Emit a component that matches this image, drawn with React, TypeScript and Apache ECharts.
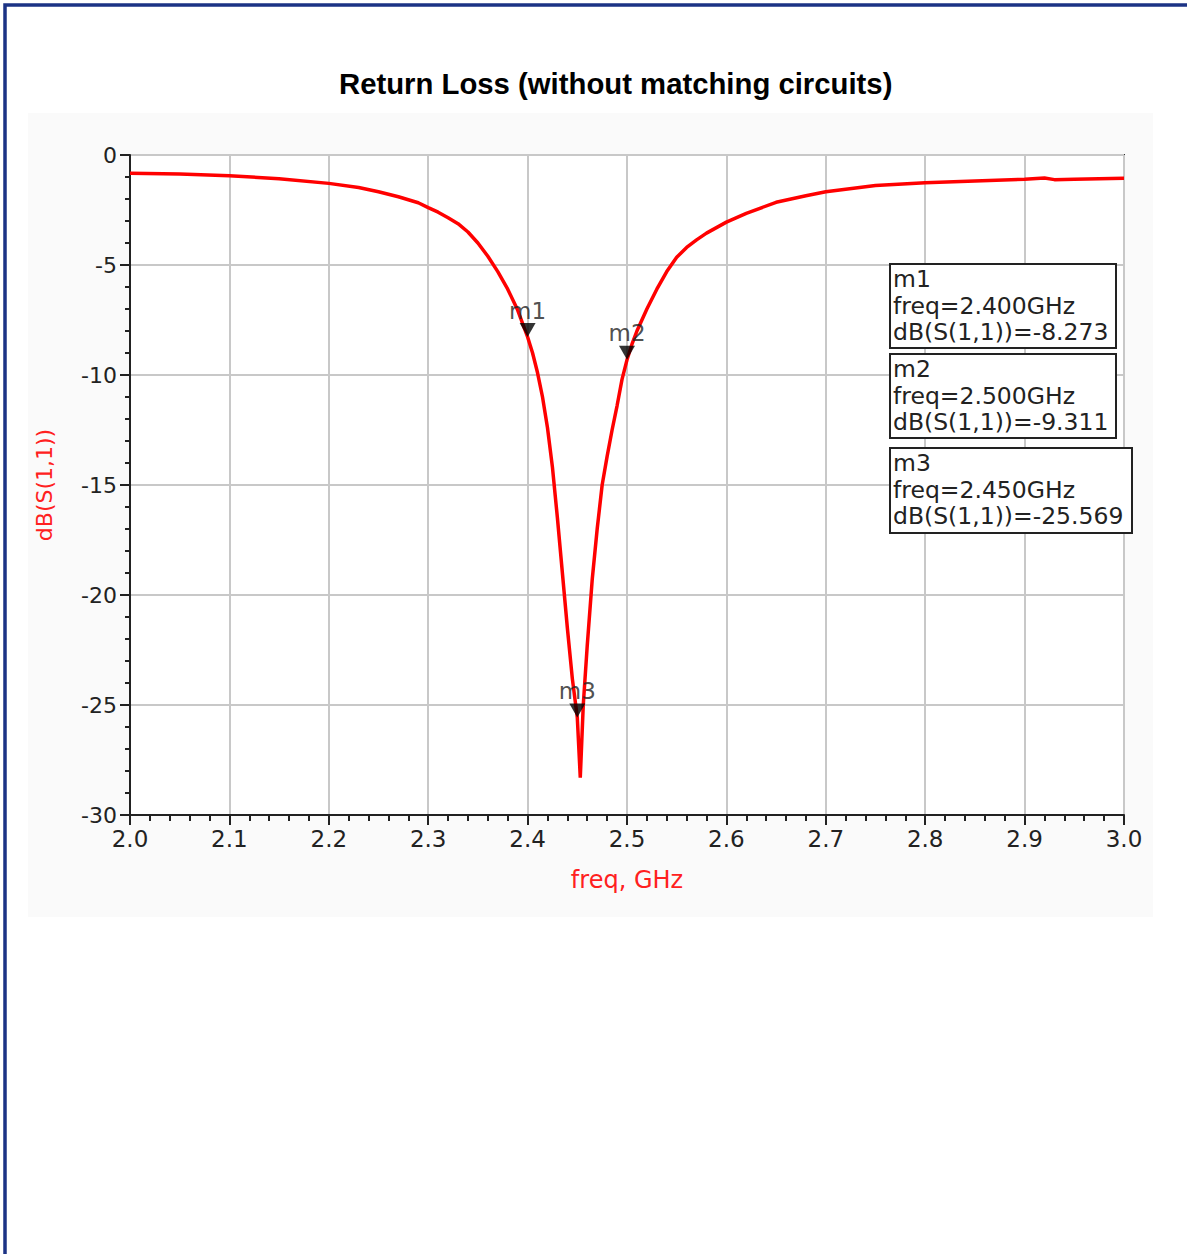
import React, { useEffect, useRef } from "react";
import * as echarts from "echarts";

const chartTitle = "Return Loss (without matching circuits)";
const xAxisName = "freq, GHz";
const yAxisName = "dB(S(1,1))";

const freqGHz = [
  2.0, 2.05, 2.1, 2.15, 2.2, 2.23, 2.25, 2.27, 2.29, 2.3, 2.31, 2.32, 2.33, 2.34, 2.35, 2.36,
  2.37, 2.38, 2.39, 2.4, 2.405, 2.41, 2.415, 2.42, 2.425, 2.43, 2.435, 2.44, 2.445, 2.45,
  2.453, 2.456, 2.46, 2.465, 2.47, 2.475, 2.48, 2.485, 2.49, 2.495, 2.5, 2.505, 2.51, 2.52,
  2.53, 2.54, 2.55, 2.56, 2.57, 2.58, 2.6, 2.62, 2.65, 2.68, 2.7, 2.75, 2.8, 2.85, 2.9, 2.92,
  2.93, 2.95, 3.0,
];
const s11dB = [
  -0.83, -0.86, -0.94, -1.08, -1.29, -1.48, -1.67, -1.9, -2.17, -2.39, -2.6, -2.85, -3.12, -3.5, -4.0, -4.6,
  -5.3, -6.1, -7.05, -8.273, -9.0, -9.9, -11.0, -12.4, -14.2, -16.5, -19.0, -21.5, -23.8, -25.569,
  -28.3, -25.0, -22.3, -19.3, -17.0, -15.0, -13.7, -12.5, -11.4, -10.2, -9.311, -8.6, -8.0, -7.0,
  -6.1, -5.3, -4.65, -4.2, -3.86, -3.55, -3.05, -2.65, -2.15, -1.85, -1.67, -1.39, -1.26, -1.18, -1.1, -1.05,
  -1.12, -1.1, -1.06,
];

const markerNames = ["m1", "m2", "m3"];
const markerFreq = [2.4, 2.5, 2.45];
const markerDB = [-8.273, -9.311, -25.569];

const xTickMin = 2.0;
const xTickMax = 3.0;
const xTickStep = 0.1;
const yTickMin = -30;
const yTickMax = 0;
const yTickStep = 5;

const FONT = '"DejaVu Sans", sans-serif';

export default function App() {
  const ref = useRef<HTMLDivElement>(null);

  useEffect(() => {
    if (!ref.current) return;
    const chart = echarts.init(ref.current, undefined, { renderer: "svg" });

    const lineData = freqGHz.map((f, i) => [f, s11dB[i]]);
    const markerData = markerNames.map((n, i) => ({ name: n, value: [markerFreq[i], markerDB[i]] }));

    const boxes = [
      { x: 890, y: 264, w: 226, h: 84 },
      { x: 890, y: 354, w: 226, h: 84 },
      { x: 890, y: 448, w: 242, h: 85 },
    ];

    const boxGraphics = markerNames.map((n, i) => ({
      type: "group",
      x: boxes[i].x,
      y: boxes[i].y,
      z: 100,
      children: [
        {
          type: "rect",
          z: 100,
          shape: { x: 0, y: 0, width: boxes[i].w, height: boxes[i].h },
          style: { fill: "#ffffff", stroke: "#222222", lineWidth: 2 },
        },
        {
          type: "text",
          z: 101,
          x: 3,
          y: 2,
          style: {
            text: `${n}\nfreq=${markerFreq[i].toFixed(3)}GHz\ndB(S(1,1))=${markerDB[i].toFixed(3)}`,
            font: `23.5px ${FONT}`,
            fill: "#222222",
            lineHeight: 26.5,
            textVerticalAlign: "top",
          },
        },
      ],
    }));

    chart.setOption({
      animation: false,
      backgroundColor: "#ffffff",
      title: {
        text: chartTitle,
        left: 334,
        top: 64,
        textStyle: {
          fontFamily: '"Liberation Sans", Arial, sans-serif',
          fontWeight: "bold",
          fontSize: 29.3,
          color: "#000000",
        },
      },
      graphic: [
        {
          type: "rect",
          z: -10,
          silent: true,
          shape: { x: 5, y: 5, width: 1250, height: 1300 },
          style: { fill: "none", stroke: "#1c3385", lineWidth: 3.5 },
        },
        {
          type: "rect",
          z: -9,
          silent: true,
          shape: { x: 28, y: 113, width: 1125, height: 804 },
          style: { fill: "#fafafa" },
        },
        ...boxGraphics,
      ],
      grid: {
        left: 130,
        top: 155,
        width: 994,
        height: 660,
        show: true,
        backgroundColor: "#ffffff",
        borderColor: "#333333",
        borderWidth: 2,
      },
      xAxis: {
        type: "value",
        min: xTickMin,
        max: xTickMax,
        interval: xTickStep,
        name: xAxisName,
        nameLocation: "middle",
        nameGap: 53,
        nameTextStyle: { color: "#ff2020", fontSize: 24, fontFamily: FONT },
        axisLine: { show: true, onZero: false, lineStyle: { color: "#222222", width: 2 } },
        axisTick: { show: true, length: 10, lineStyle: { color: "#222222", width: 2 } },
        minorTick: { show: true, splitNumber: 5, length: 6, lineStyle: { color: "#222222", width: 2 } },
        axisLabel: {
          color: "#222222",
          fontSize: 23,
          fontFamily: FONT,
          margin: 12,
          formatter: (v: number) => v.toFixed(1),
        },
        splitLine: { show: true, lineStyle: { color: "#c8c8c8", width: 2 } },
      },
      yAxis: {
        type: "value",
        min: yTickMin,
        max: yTickMax,
        interval: yTickStep,
        name: yAxisName,
        nameLocation: "middle",
        nameGap: 75,
        nameTextStyle: { color: "#ff2020", fontSize: 22, fontFamily: FONT },
        axisLine: { show: true, onZero: false, lineStyle: { color: "#222222", width: 2 } },
        axisTick: { show: true, length: 10, lineStyle: { color: "#222222", width: 2 } },
        minorTick: { show: true, splitNumber: 5, length: 5, lineStyle: { color: "#222222", width: 2 } },
        axisLabel: {
          color: "#222222",
          fontSize: 22,
          fontFamily: FONT,
          margin: 13,
          padding: [0, 0, 6, 0],
        },
        splitLine: { show: true, lineStyle: { color: "#c8c8c8", width: 2 } },
      },
      series: [
        {
          type: "line",
          data: lineData,
          showSymbol: false,
          lineStyle: { color: "#ff0000", width: 3.5 },
          itemStyle: { color: "#ff0000" },
          z: 3,
        },
        {
          type: "scatter",
          data: markerData,
          symbol: "path://M0,0 L16,0 L8,14 Z",
          symbolSize: [16, 14],
          symbolOffset: [0, -7],
          itemStyle: { color: "#000000" },
          label: {
            show: true,
            position: "top",
            distance: 1,
            formatter: (p: any) => p.name,
            color: "#222222",
            fontSize: 23,
            fontFamily: FONT,
          },
          z: 5,
        },
      ],
    });

    return () => chart.dispose();
  }, []);

  return (
    <div
      ref={ref}
      style={{ position: "absolute", left: 0, top: 0, width: 1187, height: 1254 }}
    />
  );
}
